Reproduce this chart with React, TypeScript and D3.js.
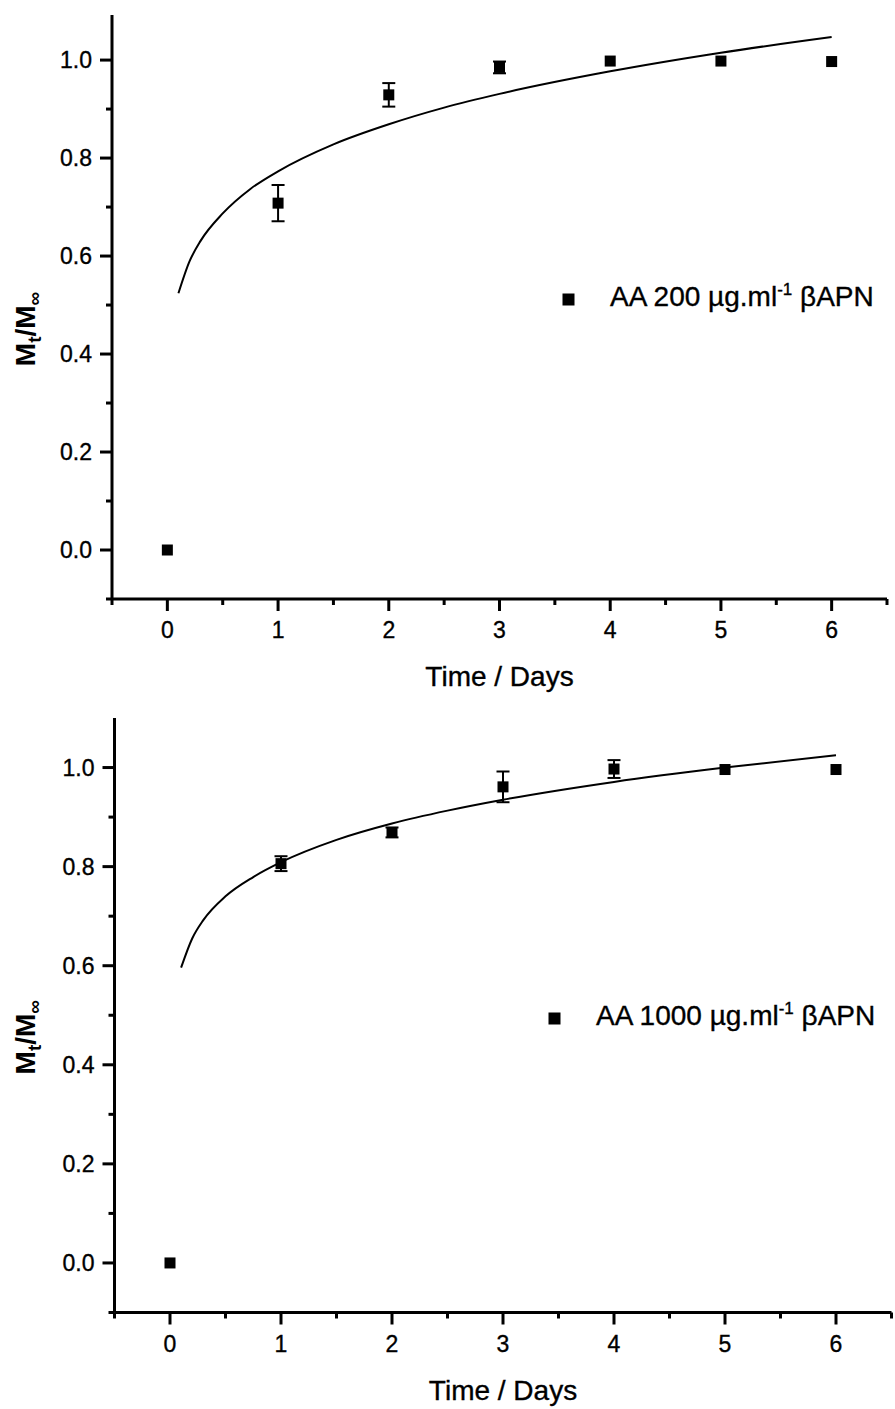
import React from "react";
import * as d3 from "d3";

// ---- data ----
const days = [0, 1, 2, 3, 4, 5, 6];
const release200 = [0, 0.708, 0.929, 0.985, 0.998, 0.998, 0.997];
const error200 = [0, 0.037, 0.024, 0.012, 0, 0, 0];
const release1000 = [0, 0.806, 0.869, 0.961, 0.997, 0.996, 0.996];
const error1000 = [0, 0.015, 0.01, 0.031, 0.018, 0, 0];

const fitDays = [0.1, 0.2, 0.3, 0.5, 0.75, 1, 1.5, 2, 2.5, 3, 4, 5, 6];
const fit200 = [0.524, 0.589, 0.631, 0.687, 0.737, 0.773, 0.828, 0.869, 0.903, 0.931, 0.977, 1.015, 1.047];
const fit1000 = [0.596, 0.655, 0.692, 0.74, 0.779, 0.809, 0.854, 0.887, 0.913, 0.935, 0.971, 1.0, 1.025];

const xTickValues = [0, 1, 2, 3, 4, 5, 6];
const xMinorValues = [-0.5, 0.5, 1.5, 2.5, 3.5, 4.5, 5.5, 6.5];
const yTickValues = [0, 0.2, 0.4, 0.6, 0.8, 1.0];
const yMinorValues = [-0.1, 0.1, 0.3, 0.5, 0.7, 0.9];

const legend200 = { pre: "AA 200 \u00b5g.ml", sup: "-1", post: " \u03b2APN" };
const legend1000 = { pre: "AA 1000 \u00b5g.ml", sup: "-1", post: " \u03b2APN" };

const FONT = "'Liberation Sans', Arial, Helvetica, sans-serif";

type PanelProps = {
  x0: number; x1: number; yTop: number; yBottom: number;
  yMax: number;
  values: number[]; errors: number[]; fit: number[];
  legend: { pre: string; sup: string; post: string };
  legendX: number; legendY: number;
};

function Panel(p: PanelProps) {
  const xs = d3.scaleLinear().domain([-0.5, 6.5]).range([p.x0, p.x1]);
  const ys = d3.scaleLinear().domain([-0.1, p.yMax]).range([p.yBottom, p.yTop]);
  const line = d3
    .line<number>()
    .x((_, i) => xs(fitDays[i]))
    .y((d) => ys(d))
    .curve(d3.curveMonotoneX);
  const axisY = ys(-0.1);
  const axisX = xs(-0.5);
  const sq = 11;
  const cap = 6.5;
  const thick = { stroke: "#000", strokeWidth: 0.35 };
  return (
    <g>
      {/* fit curve */}
      <path d={line(p.fit) || ""} fill="none" stroke="#000" strokeWidth={2} />
      {/* error bars */}
      {days.map((d, i) =>
        p.errors[i] > 0 ? (
          <g key={"e" + i} stroke="#000" strokeWidth={2}>
            <line x1={xs(d)} x2={xs(d)} y1={ys(p.values[i] - p.errors[i])} y2={ys(p.values[i] + p.errors[i])} />
            <line x1={xs(d) - cap} x2={xs(d) + cap} y1={ys(p.values[i] - p.errors[i])} y2={ys(p.values[i] - p.errors[i])} />
            <line x1={xs(d) - cap} x2={xs(d) + cap} y1={ys(p.values[i] + p.errors[i])} y2={ys(p.values[i] + p.errors[i])} />
          </g>
        ) : null
      )}
      {/* points */}
      {days.map((d, i) => (
        <rect key={"p" + i} x={xs(d) - sq / 2} y={ys(p.values[i]) - sq / 2} width={sq} height={sq} fill="#000" />
      ))}
      {/* axes */}
      <line x1={axisX} x2={axisX} y1={ys(p.yMax)} y2={axisY} stroke="#000" strokeWidth={3} />
      <line x1={axisX} x2={xs(6.5)} y1={axisY} y2={axisY} stroke="#000" strokeWidth={3} />
      {xTickValues.map((t) => (
        <g key={"xt" + t}>
          <line x1={xs(t)} x2={xs(t)} y1={axisY} y2={axisY + 12} stroke="#000" strokeWidth={3} />
          <text x={xs(t)} y={axisY + 39} textAnchor="middle" fontFamily={FONT} fontSize={23} {...thick}>{t}</text>
        </g>
      ))}
      {xMinorValues.map((t) => (
        <line key={"xm" + t} x1={xs(t)} x2={xs(t)} y1={axisY} y2={axisY + 6} stroke="#000" strokeWidth={3} />
      ))}
      {yTickValues.map((t) => (
        <g key={"yt" + t}>
          <line x1={axisX - 12} x2={axisX} y1={ys(t)} y2={ys(t)} stroke="#000" strokeWidth={3} />
          <text x={axisX - 20} y={ys(t) + 8} textAnchor="end" fontFamily={FONT} fontSize={23} {...thick}>{t.toFixed(1)}</text>
        </g>
      ))}
      {yMinorValues.map((t) => (
        <line key={"ym" + t} x1={axisX - 6} x2={axisX} y1={ys(t)} y2={ys(t)} stroke="#000" strokeWidth={3} />
      ))}
      {/* axis titles */}
      <text x={(p.x0 + p.x1) / 2} y={axisY + 87} textAnchor="middle" fontFamily={FONT} fontSize={28} {...thick}>Time / Days</text>
      <text transform={`translate(35, ${(p.yTop + p.yBottom) / 2 + 22}) rotate(-90)`} textAnchor="middle" fontFamily={FONT} fontSize={28} fontWeight="bold">
        M<tspan fontSize={19} dy={6}>t</tspan><tspan dy={-6}>/M</tspan><tspan fontSize={19} dy={6}>{"\u221e"}</tspan>
      </text>
      {/* legend */}
      <rect x={p.legendX - sq / 2} y={p.legendY - sq / 2} width={sq + 1} height={sq + 1} fill="#000" />
      <text x={p.legendX + 42} y={p.legendY + 7} fontFamily={FONT} fontSize={28} {...thick}>
        {p.legend.pre}<tspan fontSize={17} dy={-11}>{p.legend.sup}</tspan><tspan dy={11}>{p.legend.post}</tspan>
      </text>
    </g>
  );
}

export default function App() {
  return (
    <svg width={895} height={1409} style={{ position: "absolute", left: 0, top: 0, background: "#fff" }}>
      <rect width={895} height={1409} fill="#fff" />
      <Panel x0={112} x1={887} yTop={15} yBottom={599} yMax={1.092}
        values={release200} errors={error200} fit={fit200}
        legend={legend200} legendX={568} legendY={299} />
      <Panel x0={114.5} x1={891.5} yTop={718} yBottom={1312.5} yMax={1.1}
        values={release1000} errors={error1000} fit={fit1000}
        legend={legend1000} legendX={554} legendY={1018} />
    </svg>
  );
}
